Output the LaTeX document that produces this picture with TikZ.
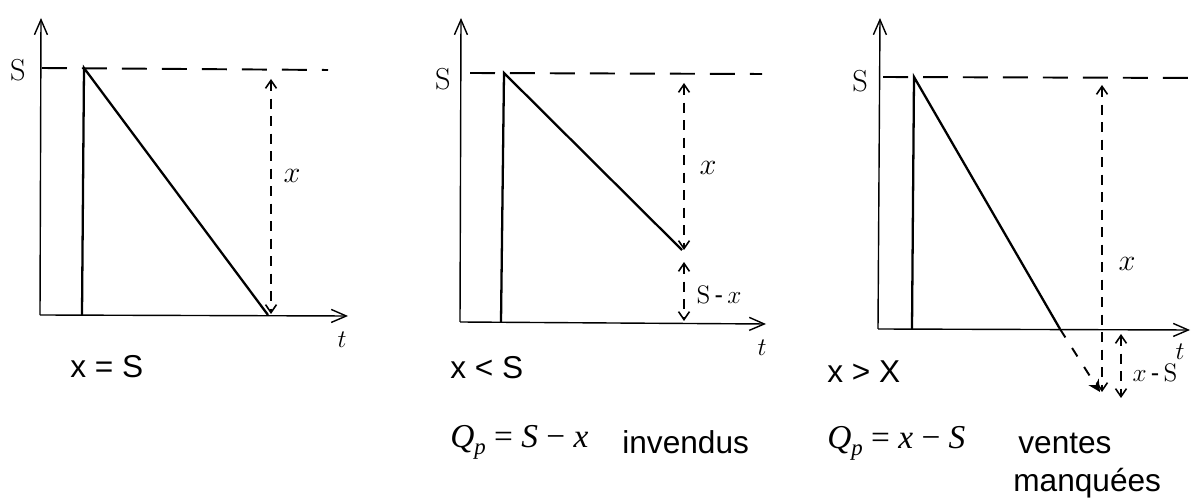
\documentclass[tikz,border=0pt]{standalone}
\usepackage[no-math]{fontspec}
\setmainfont{Liberation Sans}
\newfontfamily\timesfont{Liberation Serif}
\usetikzlibrary{arrows.meta}

\tikzset{
  axis/.style={line width=0.8pt,-{Straight Barb[length=3mm,width=2.6mm]}},
  stock/.style={line width=1.3pt},
  level/.style={line width=1.1pt,dash pattern=on 0.5cm off 0.3cm},
  gap/.style={line width=0.9pt,dash pattern=on 0.2cm off 0.15cm,
    {Straight Barb[length=1.6mm,width=2.2mm]}-{Straight Barb[length=1.6mm,width=2.2mm]}},
  hand/.style={inner sep=0pt,font=\fontsize{14.4}{17}\selectfont},
  big/.style={inner sep=0pt,font=\fontsize{17.28}{20}\selectfont},
  caption/.style={anchor=west,inner sep=0pt,font=\fontsize{18}{22}\selectfont},
  formula/.style={anchor=west,inner sep=0pt,font=\fontsize{19}{22}\selectfont\timesfont}
}
\newcommand{\qp}{\itshape Q\raisebox{-0.45ex}{\fontsize{13}{13}\selectfont p}\upshape}

\begin{document}
\begin{tikzpicture}[x=0.02cm,y=-0.02cm]
  \useasboundingbox (0,0) rectangle (1197,499);

  % x = S
  \coordinate (o1) at (40,315);
  \coordinate (y1) at (41,18);
  \coordinate (t1) at (348,316);
  \coordinate (s1a) at (42,68);
  \coordinate (s1b) at (328,70);
  \coordinate (p1) at (84,68);
  \coordinate (b1) at (82,315);
  \coordinate (e1) at (268,315);
  \coordinate (u1) at (271,79);
  \coordinate (d1) at (271,314);
  \draw[axis] (o1) -- (y1);
  \draw[axis] (o1) -- (t1);
  \draw[level] (s1a) -- (s1b);
  \draw[stock] (b1) -- (p1) -- (e1);
  \draw[gap] (u1) -- (d1);
  \node[big] (ls1) at (18,70) {$\mathrm{S}$};
  \node[big] (lx1) at (292,176) {$x$};
  \node[hand] (lt1) at (342,340) {$t$};
  \node[caption] (c1) at (70,367) {x = S};

  % x < S
  \coordinate (o2) at (460,322);
  \coordinate (y2) at (461,18);
  \coordinate (t2) at (766,324);
  \coordinate (s2a) at (470,73);
  \coordinate (s2b) at (762,74);
  \coordinate (p2) at (504,73);
  \coordinate (b2) at (501,322);
  \coordinate (e2) at (682,250);
  \coordinate (u2) at (684,83);
  \coordinate (d2) at (684,250);
  \coordinate (u2b) at (684,262);
  \coordinate (d2b) at (684,321);
  \draw[axis] (o2) -- (y2);
  \draw[axis] (o2) -- (t2);
  \draw[level] (s2a) -- (s2b);
  \draw[stock] (b2) -- (p2) -- (e2);
  \draw[gap] (u2) -- (d2);
  \draw[gap] (u2b) -- (d2b);
  \node[big] (ls2) at (443,79) {$\mathrm{S}$};
  \node[big] (lx2) at (708,168) {$x$};
  \node[hand] (lsx2) at (719,295) {$\mathrm{S}\,\mbox{-}\,x$};
  \node[hand] (lt2) at (762,348) {$t$};
  \node[caption] (c2) at (450,368) {x < S};
  \node[formula] (q2) at (450,442) {\qp{} = \itshape S\/ \upshape− \itshape x};
  \node[caption] (w2) at (622,442) {invendus};

  % x > S
  \coordinate (o3) at (878,329);
  \coordinate (y3) at (880,18);
  \coordinate (t3) at (1190,330);
  \coordinate (s3a) at (883,77);
  \coordinate (s3b) at (1197,78);
  \coordinate (p3) at (914,77);
  \coordinate (b3) at (912,329);
  \coordinate (e3) at (1060,329);
  \coordinate (f3) at (1100,392);
  \coordinate (u3) at (1102,85);
  \coordinate (d3) at (1102,392);
  \coordinate (u3b) at (1121,334);
  \coordinate (d3b) at (1121,398);
  \draw[axis] (o3) -- (y3);
  \draw[axis] (o3) -- (t3);
  \draw[level] (s3a) -- (s3b);
  \draw[stock] (b3) -- (p3) -- (e3);
  \draw[line width=1.1pt,dash pattern=on 0.2cm off 0.25cm,-{Stealth[length=2.4mm,width=2.4mm]}] (e3) -- (f3);
  \draw[gap] (u3) -- (d3);
  \draw[gap] (u3b) -- (d3b);
  \node[big] (ls3) at (860,81) {$\mathrm{S}$};
  \node[big] (lx3) at (1127,264) {$x$};
  \node[hand] (lxs3) at (1155,373) {$x\,\mbox{-}\,\mathrm{S}$};
  \node[hand] (lt3) at (1180,352) {$t$};
  \node[caption] (c3) at (827,372) {x > X};
  \node[formula] (q3) at (827,443) {\qp{} = \itshape x\/ \upshape− \itshape S};
  \node[caption] (w3) at (1018,443) {ventes};
  \node[caption] (m3) at (1013,483) {manquées};
\end{tikzpicture}
\end{document}
